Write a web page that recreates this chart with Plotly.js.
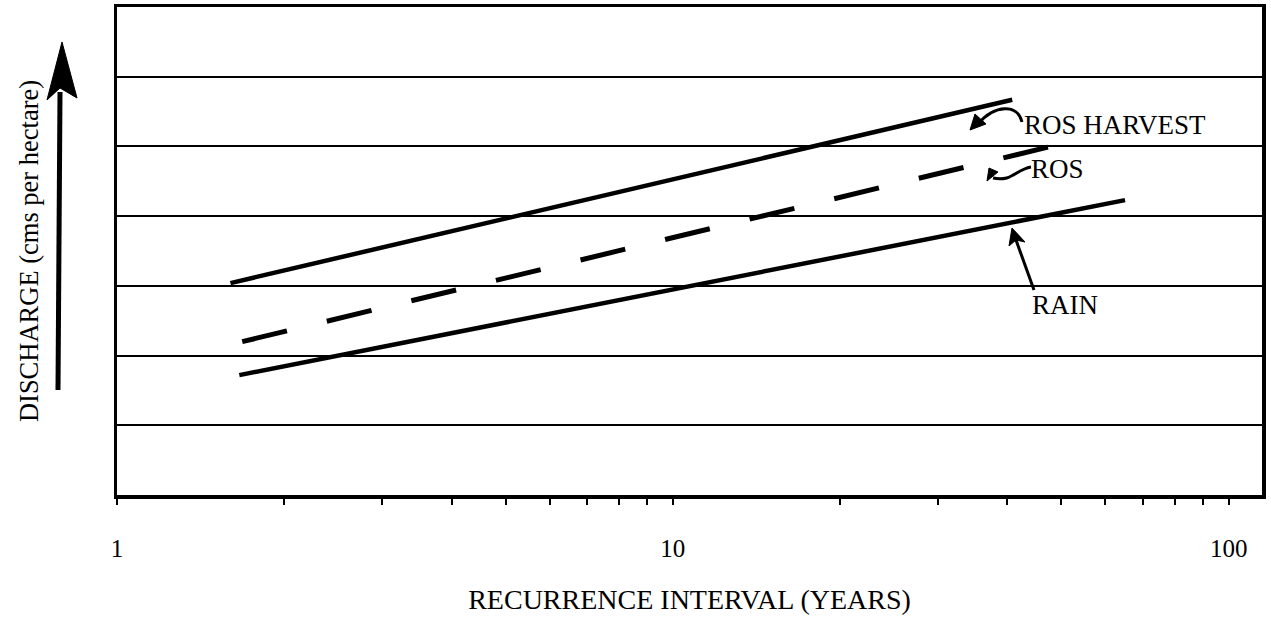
<!DOCTYPE html>
<html>
<head>
<meta charset="utf-8">
<script src="https://cdn.plot.ly/plotly-3.0.1.min.js"></script>
<style>html,body{margin:0;padding:0;background:#fff;}#chart{width:1271px;height:628px;}</style>
</head>
<body>
<div id="chart"></div>
<script>
// ---- data ----
const seriesNames = ['ROS HARVEST', 'ROS', 'RAIN'];
const harvestX = [1.6, 40.8];
const harvestY = [3.04, 5.67];
const rosX = [1.68, 47.3];
const rosY = [2.2, 4.99];
const rainX = [1.66, 65.1];
const rainY = [1.72, 4.23];
const xTickVals = [1, 2, 3, 4, 5, 6, 7, 8, 9, 10, 20, 30, 40, 50, 60, 70, 80, 90, 100];
const xTickText = ['1', '', '', '', '', '', '', '', '', '10', '', '', '', '', '', '', '', '', '100'];
const yGridVals = [0, 1, 2, 3, 4, 5, 6, 7];

// ---- geometry helpers for hand-drawn decorations (pixel -> paper) ----
const L = 117, R = 1262, T = 7, B = 495;
const W = R - L, H = B - T;
function P(x, y) { return ((x - L) / W).toFixed(5) + ',' + ((B - y) / H).toFixed(5); }

const FONT = 'Liberation Serif, Times New Roman, serif';

const lineStyle = {color: '#000', width: 4.5};
const traces = [
  {x: harvestX, y: harvestY, name: seriesNames[0], mode: 'lines', line: lineStyle},
  {x: rosX, y: rosY, name: seriesNames[1], mode: 'lines', line: {color: '#000', width: 5, dash: '46px,41px'}},
  {x: rainX, y: rainY, name: seriesNames[2], mode: 'lines', line: lineStyle}
];

const shapes = [
  // big upward arrow beside the y title: shaft
  {type: 'path', xref: 'paper', yref: 'paper', path: 'M' + P(58, 390) + 'L' + P(60, 92),
   line: {color: '#000', width: 5}},
  // arrowhead
  {type: 'path', xref: 'paper', yref: 'paper',
   path: 'M' + P(62, 42) + 'L' + P(47, 100) + 'L' + P(60, 88) + 'L' + P(77, 98) + 'Z',
   fillcolor: '#000', line: {color: '#000', width: 1}},
  // ROS HARVEST hook
  {type: 'path', xref: 'paper', yref: 'paper',
   path: 'M' + P(1022, 122) + 'C' + P(1018, 104) + ' ' + P(995, 104) + ' ' + P(978, 124),
   line: {color: '#000', width: 3}},
  {type: 'path', xref: 'paper', yref: 'paper',
   path: 'M' + P(970, 130) + 'L' + P(975, 114) + 'L' + P(986, 124) + 'Z',
   fillcolor: '#000', line: {color: '#000', width: 1}},
  // ROS hook
  {type: 'path', xref: 'paper', yref: 'paper',
   path: 'M' + P(1031, 167) + 'C' + P(1015, 170) + ' ' + P(1012, 182) + ' ' + P(993, 178),
   line: {color: '#000', width: 3}},
  {type: 'path', xref: 'paper', yref: 'paper',
   path: 'M' + P(987, 181) + 'L' + P(989, 168) + 'L' + P(998, 172) + 'Z',
   fillcolor: '#000', line: {color: '#000', width: 1}},
  // RAIN arrow
  {type: 'path', xref: 'paper', yref: 'paper', path: 'M' + P(1034, 290) + 'L' + P(1016, 240),
   line: {color: '#000', width: 3}},
  {type: 'path', xref: 'paper', yref: 'paper',
   path: 'M' + P(1012, 228) + 'L' + P(1009, 246) + 'L' + P(1016, 240) + 'L' + P(1025, 242) + 'Z',
   fillcolor: '#000', line: {color: '#000', width: 1}}
];

function pxAnn(text, x, y, anchor) {
  return {text: text, xref: 'paper', yref: 'paper', x: (x - L) / W, y: (B - y) / H,
    xanchor: anchor || 'left', yanchor: 'middle', showarrow: false,
    font: {family: FONT, size: 27, color: '#000'}};
}

const annotations = [
  pxAnn(seriesNames[0], 1022, 125),
  pxAnn(seriesNames[1], 1029, 169),
  pxAnn(seriesNames[2], 1030, 305)
];

const layout = {
  width: 1271, height: 628,
  margin: {l: L, r: 1271 - R, t: T, b: 628 - B},
  paper_bgcolor: '#fff', plot_bgcolor: '#fff',
  showlegend: false,
  font: {family: FONT, color: '#000'},
  xaxis: {
    type: 'log', range: [0, 2.06], autorange: false,
    tickvals: xTickVals, ticktext: xTickText,
    ticks: 'outside', ticklen: 6, tickwidth: 2, tickcolor: '#000',
    ticklabelstandoff: 22,
    tickfont: {family: FONT, size: 25, color: '#000'},
    showgrid: false, zeroline: false,
    showline: true, linecolor: '#000', linewidth: 3.5, mirror: true,
    title: {text: 'RECURRENCE INTERVAL (YEARS)', font: {family: FONT, size: 28, color: '#000'}, standoff: 30}
  },
  yaxis: {
    range: [0, 7], autorange: false,
    tickvals: yGridVals, showticklabels: false, ticks: '',
    showgrid: true, gridcolor: '#000', gridwidth: 2,
    zeroline: false,
    showline: true, linecolor: '#000', linewidth: 3.5, mirror: true,
    title: {text: 'DISCHARGE (cms per hectare)', font: {family: FONT, size: 26.5, color: '#000'}, standoff: 68}
  },
  shapes: shapes,
  annotations: annotations
};

Plotly.newPlot('chart', traces, layout, {displayModeBar: false, staticPlot: true});
</script>
</body>
</html>
